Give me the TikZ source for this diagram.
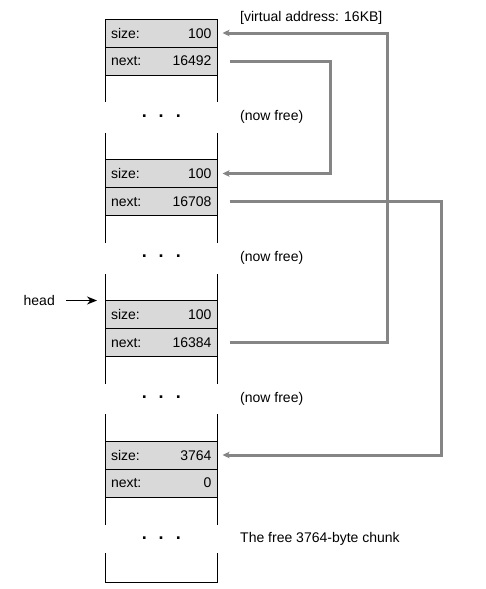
\documentclass[tikz,border=0pt]{standalone}
\usepackage{fontspec}
\setmainfont{Liberation Sans}
\usetikzlibrary{arrows.meta,positioning}
\definecolor{cellgray}{HTML}{D9D9D9}
\definecolor{linkgray}{HTML}{858585}

\begin{document}
\begin{tikzpicture}[
    x=1pt, y=-1pt,
    txt/.style  = {font=\fontsize{14}{16}\selectfont},
    cell/.style = {rectangle, draw, fill=cellgray, txt, line width=0.8pt,
                   minimum width=112.5pt, minimum height=28pt, text width=100.5pt,
                   inner xsep=6pt, inner ysep=0pt, outer sep=0pt},
    note/.style = {txt, anchor=west, inner sep=0pt},
    dots/.style = {font=\fontsize{18}{20}\selectfont\bfseries, inner sep=0pt},
    wall/.style = {line width=0.8pt},
    link/.style = {draw=linkgray, line width=3pt, -{Stealth[length=7pt,width=6.5pt,inset=1.5pt]}},
    pointer/.style = {line width=1.6pt, -{Stealth[length=10pt,width=8pt]}}
]
\useasboundingbox (0,0) rectangle (486,589);

% Chunk 1
\node[cell] (s1) at (161.25,33)    {size:\hfill 100};
\node[cell] (n1) [below=0pt of s1] {next:\hfill 16492};
\draw[wall] (n1.south west) -- ++(0,27) (n1.south east) -- ++(0,27);
\node[dots] (g1) at (161.25,116) {.\hspace{12pt}.\hspace{12pt}.};

% Chunk 2
\node[cell] (s2) at (161.25,173.5) {size:\hfill 100};
\node[cell] (n2) [below=0pt of s2] {next:\hfill 16708};
\draw[wall] (s2.north west) -- ++(0,-27) (s2.north east) -- ++(0,-27);
\draw[wall] (n2.south west) -- ++(0,27) (n2.south east) -- ++(0,27);
\node[dots] (g2) at (161.25,256.5) {.\hspace{12pt}.\hspace{12pt}.};

% Chunk 3
\node[cell] (s3) at (161.25,314.5) {size:\hfill 100};
\node[cell] (n3) [below=0pt of s3] {next:\hfill 16384};
\draw[wall] (s3.north west) -- ++(0,-27) (s3.north east) -- ++(0,-27);
\draw[wall] (n3.south west) -- ++(0,27) (n3.south east) -- ++(0,27);
\node[dots] (g3) at (161.25,397.5) {.\hspace{12pt}.\hspace{12pt}.};

% Chunk 4
\node[cell] (s4) at (161.25,455)   {size:\hfill 3764};
\node[cell] (n4) [below=0pt of s4] {next:\hfill 0};
\draw[wall] (s4.north west) -- ++(0,-27) (s4.north east) -- ++(0,-27);
\draw[wall] (n4.south west) -- ++(0,28) (n4.south east) -- ++(0,28);
\node[dots] (g4) at (161.25,538) {.\hspace{12pt}.\hspace{12pt}.};
\draw[wall] (n4.south west) ++(0,56) -- ++(0,29) -| ++(112.5,-29);

% Notes
\node[note] (va) at (240,18)    {[virtual address: 16KB]};
\node[note] (f1) at (240,117)   {(now free)};
\node[note] (f2) at (240,257.5) {(now free)};
\node[note] (f3) at (240,398.5) {(now free)};
\node[note] (fc) at (240,539)   {The free 3764-byte chunk};

% Head pointer
\node[note, anchor=east] (head) [left=50pt of s3.north west] {head};
\draw[pointer] ([xshift=11pt]head.east) -- ([xshift=-8pt]s3.north west);

% Links
\draw[link] ([xshift=12pt]n1.east) -- ++(101,0) |- ([xshift=5pt]s2.east);
\draw[link] ([xshift=12pt]n2.east) -- ++(212,0) |- ([xshift=5pt]s4.east);
\draw[link] ([xshift=12pt]n3.east) -- ++(158,0) |- ([xshift=5pt]s1.east);

\end{tikzpicture}
\end{document}
